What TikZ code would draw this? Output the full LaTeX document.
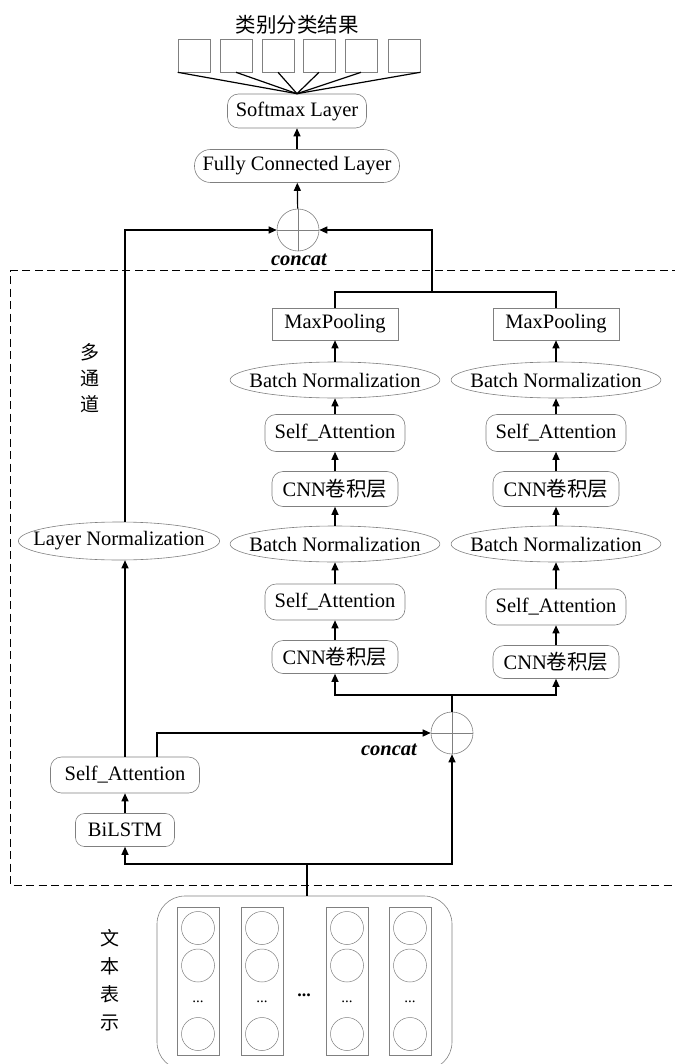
\documentclass[tikz,border=0pt]{standalone}
\usepackage{fontspec}
\setmainfont{Liberation Serif}
\newfontfamily\cjk{Noto Sans CJK SC}
\usetikzlibrary{arrows.meta,shapes.geometric}

\tikzset{
  layer/.style={draw=gray, rounded corners=11pt, inner sep=0pt, line width=0.6pt},
  oval/.style={draw=gray, ellipse, inner ysep=0pt, inner xsep=-11.5pt, line width=0.6pt},
  pool/.style={draw=gray, rectangle, inner sep=0pt, line width=0.6pt},
  joint/.style={draw=gray, circle, minimum size=42pt, inner sep=0pt, line width=0.6pt,
    path picture={\draw[gray, line width=0.5pt]
      (path picture bounding box.north) -- (path picture bounding box.south)
      (path picture bounding box.west) -- (path picture bounding box.east);}},
  flow/.style={-{Triangle[length=8pt,width=7pt]}, line width=1.2pt},
  link/.style={line width=1.2pt},
  catlabel/.style={font=\fontsize{20.5}{24}\selectfont\bfseries\itshape},
}

\begin{document}
\begin{tikzpicture}[x=1pt,y=-1pt,font=\fontsize{20.5}{24}\selectfont]
    \useasboundingbox (0,0) rectangle (674,1064);

    % output classes
    \node (title) at (297,25) {\cjk 类别分类结果};
    \foreach \i/\x in {1/194,2/236,3/278,4/319,5/361,6/404}{%
        \node [pool, minimum width=32pt, minimum height=33pt] (o\i) at (\x,55.5) {};}

    \node [layer, minimum width=139pt, minimum height=34pt] (softmax) at (297,111) {Softmax Layer};
    \node [layer, rounded corners=16pt, minimum width=205pt, minimum height=33pt] (fc) at (297,166) {Fully Connected Layer};
    \node [joint] (cat1) at (298,230) {};
    \node [catlabel] at (299,260) {concat};

    % multi-channel frame
    \draw [dash pattern=on 8pt off 4.5pt, line width=1pt] (680,271) -| (10,885) -- (680,885);
    \node [align=center, font=\cjk\fontsize{19}{26}\selectfont] at (90,378) {多\\通\\道};

    % CNN channels
    \foreach \c/\x in {1/335,2/556}{%
        \node [pool, minimum width=126pt, minimum height=32pt] (mp\c) at (\x,324) {MaxPooling};
        \node [oval, minimum height=36pt] (bnu\c) at (\x,380) {Batch Normalization};
        \node [layer, minimum width=140pt, minimum height=37pt] (sau\c) at (\x,433) {Self\_Attention};
        \node [layer, minimum width=126pt, minimum height=35pt] (cnnu\c) at (\x,489) {CNN{\cjk 卷积层}};
        \node [oval, minimum height=36pt] (bnl\c) at (\x,544) {Batch Normalization};}
    \node [layer, minimum width=140pt, minimum height=36pt] (sal1) at (335,602) {Self\_Attention};
    \node [layer, minimum width=140pt, minimum height=36pt] (sal2) at (556,607) {Self\_Attention};
    \node [layer, minimum width=126pt, minimum height=33pt] (cnnl1) at (335,657) {CNN{\cjk 卷积层}};
    \node [layer, minimum width=126pt, minimum height=33pt] (cnnl2) at (556,662) {CNN{\cjk 卷积层}};

    % BiLSTM channel
    \node [oval, inner xsep=-14.5pt, minimum height=38pt] (lnorm) at (119,541) {Layer Normalization};
    \node [layer, minimum width=149pt, minimum height=36pt] (sa0) at (125,775) {Self\_Attention};
    \node [layer, rounded corners=9pt, minimum width=99pt, minimum height=33pt] (bilstm) at (125,830) {BiLSTM};
    \node [joint] (cat2) at (452,733) {};
    \node [catlabel] at (389,750) {concat};

    % text representation
    \node [draw=gray, line width=0.6pt, rounded corners=28pt, minimum width=295pt, minimum height=174pt] (emb) at (304.5,983) {};
    \node [align=center, font=\cjk\fontsize{19}{28}\selectfont] at (110,980) {文\\本\\表\\示};
    \begin{scope}[draw=gray, line width=0.5pt]
    \foreach \x in {198,262,347,410}{%
        \draw (\x-21,907) rectangle (\x+21,1055);
        \foreach \y in {928,965.5,1034}
            \draw (\x,\y) circle (16.5);
        \node [font=\fontsize{15}{18}\selectfont] at (\x,1002) {...};}
    \end{scope}
    \node [font=\fontsize{18}{20}\selectfont\bfseries] at (304,995) {...};

    % connectors
    \draw [link] (softmax.north) -- (o1.south west);
    \foreach \i in {2,...,5}{%
        \draw [link] (softmax.north) -- (o\i.south);}
    \draw [link] (softmax.north) -- (o6.south east);
    \draw [flow] (fc) -- (softmax);
    \draw [flow] (cat1) -- (fc);

    \coordinate (jtop) at (432,292);
    \draw [link] (mp1.north) |- (jtop) -| (mp2.north);
    \draw [flow] (jtop) |- (cat1.east);
    \draw [flow] (sa0.north |- lnorm.north) |- (cat1.west);

    \foreach \c in {1,2}{%
        \foreach \a/\b in {cnnl/sal,sal/bnl,bnl/cnnu,cnnu/sau,sau/bnu,bnu/mp}
            \draw [flow] (\a\c) -- (\b\c);}

    \coordinate (jmid) at (452,695);
    \draw [link] (cat2) -- (jmid);
    \draw [flow] (jmid) -| (cnnl1.south);
    \draw [flow] (jmid) -| (cnnl2.south);

    \draw [flow] (sa0) -- (sa0 |- lnorm.south);
    \draw [flow] ([xshift=32pt]sa0.north) |- (cat2.west);
    \draw [flow] (bilstm) -- (sa0);

    \coordinate (jbot) at (307,864);
    \draw [link] (emb.north -| jbot) -- (jbot);
    \draw [flow] (jbot) -| (bilstm.south);
    \draw [flow] (jbot) -| (cat2.south);
\end{tikzpicture}
\end{document}
